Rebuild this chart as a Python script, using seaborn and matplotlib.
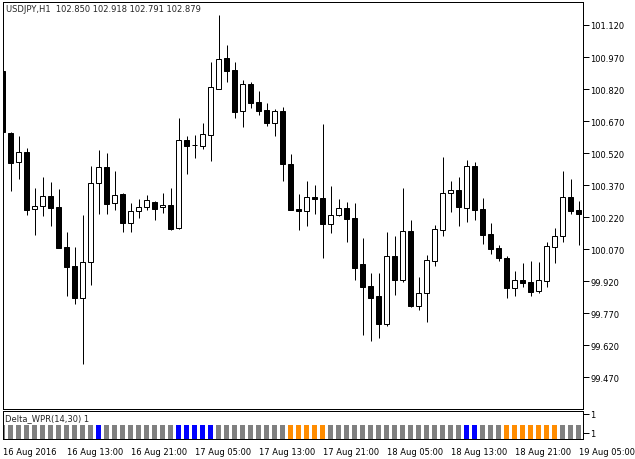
import numpy as np
import pandas as pd
import matplotlib
matplotlib.use("Agg")
import matplotlib.pyplot as plt
import seaborn as sns

# USDJPY H1 candles
opens = [100.906, 100.614, 100.477, 100.524, 100.257, 100.271, 100.318, 100.268, 100.080, 99.991,
         99.843, 100.009, 100.379, 100.454, 100.285, 100.329, 100.194, 100.248, 100.266, 100.291,
         100.266, 100.276, 100.168, 100.582, 100.557, 100.555, 100.606, 100.822, 100.964, 100.908,
         100.719, 100.842, 100.758, 100.721, 100.662, 100.716, 100.468, 100.258, 100.248, 100.313,
         100.308, 100.189, 100.232, 100.262, 100.215, 99.999, 99.898, 99.851, 99.721, 100.037,
         99.927, 100.155, 99.805, 99.866, 100.016, 100.161, 100.332, 100.346, 100.264, 100.460,
         100.258, 100.141, 100.076, 100.029, 99.890, 99.924, 99.915, 99.876, 99.923, 100.082,
         100.133, 100.313, 100.252]
highs = [100.909, 100.619, 100.602, 100.544, 100.357, 100.408, 100.385, 100.352, 100.152, 100.080,
         100.232, 100.461, 100.535, 100.521, 100.436, 100.331, 100.286, 100.305, 100.324, 100.297,
         100.333, 100.357, 100.685, 100.600, 100.605, 100.661, 100.947, 101.167, 101.026, 100.947,
         100.862, 100.853, 100.811, 100.755, 100.727, 100.735, 100.516, 100.329, 100.389, 100.371,
         100.656, 100.366, 100.305, 100.290, 100.286, 100.123, 99.957, 99.957, 100.149, 100.132,
         100.357, 100.207, 99.941, 100.043, 100.183, 100.503, 100.389, 100.408, 100.488, 100.478,
         100.310, 100.193, 100.090, 100.038, 99.968, 100.005, 100.015, 100.010, 100.104, 100.169,
         100.436, 100.399, 100.296]
lows = [100.614, 100.343, 100.399, 100.232, 100.138, 100.227, 100.180, 100.075, 99.852, 99.812,
        99.532, 99.902, 100.236, 100.236, 100.254, 100.152, 100.152, 100.218, 100.254, 100.208,
        100.240, 100.161, 100.166, 100.424, 100.499, 100.541, 100.485, 100.820, 100.855, 100.686,
        100.644, 100.733, 100.700, 100.648, 100.602, 100.391, 100.253, 100.161, 100.180, 100.236,
        100.030, 100.147, 100.227, 100.105, 99.927, 99.670, 99.639, 99.653, 99.709, 99.857,
        99.918, 99.801, 99.787, 99.731, 99.993, 100.133, 100.246, 100.180, 100.199, 100.208,
        100.096, 100.049, 100.016, 99.843, 99.852, 99.894, 99.852, 99.866, 99.894, 100.007,
        100.105, 100.236, 100.091]
closes = [100.618, 100.474, 100.524, 100.255, 100.271, 100.318, 100.264, 100.077, 99.988, 99.843,
          100.009, 100.380, 100.454, 100.283, 100.322, 100.194, 100.249, 100.268, 100.300, 100.260,
          100.276, 100.166, 100.580, 100.555, 100.559, 100.608, 100.828, 100.959, 100.906, 100.714,
          100.842, 100.756, 100.719, 100.662, 100.716, 100.470, 100.255, 100.248, 100.313, 100.307,
          100.189, 100.229, 100.262, 100.213, 99.983, 99.894, 99.843, 99.721, 100.037, 99.927,
          100.155, 99.804, 99.864, 100.020, 100.165, 100.333, 100.346, 100.269, 100.458, 100.255,
          100.138, 100.072, 100.030, 99.890, 99.924, 99.913, 99.871, 99.924, 100.084, 100.131,
          100.313, 100.250, 100.236]

# Delta_WPR histogram: every bar = 1, colour gives the state
wpr_state = ["flat"] * 73
for i in [12, 22, 23, 24, 25, 26, 58, 59]:
    wpr_state[i] = "up"
for i in [36, 37, 38, 39, 40, 63, 64, 65, 66, 67, 68, 69]:
    wpr_state[i] = "down"
wpr_vals = [1] * 73

price_ticks = [99.470, 99.620, 99.770, 99.920, 100.070, 100.220, 100.370,
               100.520, 100.670, 100.820, 100.970, 101.120]
time_labels = ["16 Aug 2016", "16 Aug 13:00", "16 Aug 21:00", "17 Aug 05:00", "17 Aug 13:00",
               "17 Aug 21:00", "18 Aug 05:00", "18 Aug 13:00", "18 Aug 21:00", "19 Aug 05:00"]
time_pos = [0, 8, 16, 24, 32, 40, 48, 56, 64, 72]

sns.set_style("white")
plt.rcParams["font.family"] = ["DejaVu Sans"]
plt.rcParams["font.size"] = 6

df = pd.DataFrame({"o": opens, "h": highs, "l": lows, "c": closes})
df["idx"] = np.arange(len(df))
df["bottom"] = df[["o", "c"]].min(axis=1)
df["body"] = (df["c"] - df["o"]).abs().clip(lower=0.002)
df["up"] = df["c"] >= df["o"]

W, H = 635, 460
fig = plt.figure(figsize=(W / 100, H / 100), dpi=100)
ax = fig.add_axes([2.7 / W, 50 / H, 580.6 / W, 407.3 / H])
ax2 = fig.add_axes([2.7 / W, 20.3 / H, 580.6 / W, 27.5 / H])

lw = 0.72
# wicks then bodies
ax.vlines(df["idx"], df["l"], df["h"], color="black", linewidth=lw, zorder=1)
ax.bar(df["idx"], df["body"], bottom=df["bottom"], width=0.6,
       color=np.where(df["up"], "white", "black"), edgecolor="black", linewidth=lw, zorder=2)

ax.set_xlim(0.025, 72.6)
ax.set_ylim(99.322, 101.229)
ax.set_xticks([])
ax.yaxis.tick_right()
ax.set_yticks(price_ticks)
ax.set_yticklabels([f"{v:.3f}" for v in price_ticks])
ax.tick_params(axis="y", direction="out", length=4, width=lw, pad=1, labelsize=6, colors="black")
for s in ax.spines.values():
    s.set_color("black")
    s.set_linewidth(lw)

# indicator window
ind = pd.DataFrame({"idx": np.arange(73), "val": wpr_vals, "state": wpr_state})
sns.barplot(data=ind, x="idx", y="val", hue="state", native_scale=True, dodge=False,
            palette={"flat": "#808080", "up": "#0000FF", "down": "#FF8C00"},
            width=0.55, saturation=1, errorbar=None, legend=False, ax=ax2, linewidth=0)
ax2.set_xlim(0.025, 72.6)
ax2.set_ylim(0, 2.05)
ax2.set_xlabel("")
ax2.set_ylabel("")
ax2.set_xticks(time_pos)
ax2.set_xticklabels(time_labels, ha="left")
ax2.tick_params(axis="x", direction="out", length=5, width=lw, pad=1, labelsize=6, colors="black")
ax2.yaxis.tick_right()
ax2.set_yticks([0.46, 1.86])
ax2.set_yticklabels(["1", "1"])
ax2.tick_params(axis="y", direction="out", length=4, width=lw, pad=1, labelsize=6, colors="black")
for s in ax2.spines.values():
    s.set_color("black")
    s.set_linewidth(lw)

fig.text(6 / W, 1 - 9 / H, "USDJPY,H1  102.850 102.918 102.791 102.879", va="center", ha="left", fontsize=6)
fig.text(5 / W, 1 - 419 / H, "Delta_WPR(14,30) 1", va="center", ha="left", fontsize=6)

fig.savefig("out.png", dpi=100)
